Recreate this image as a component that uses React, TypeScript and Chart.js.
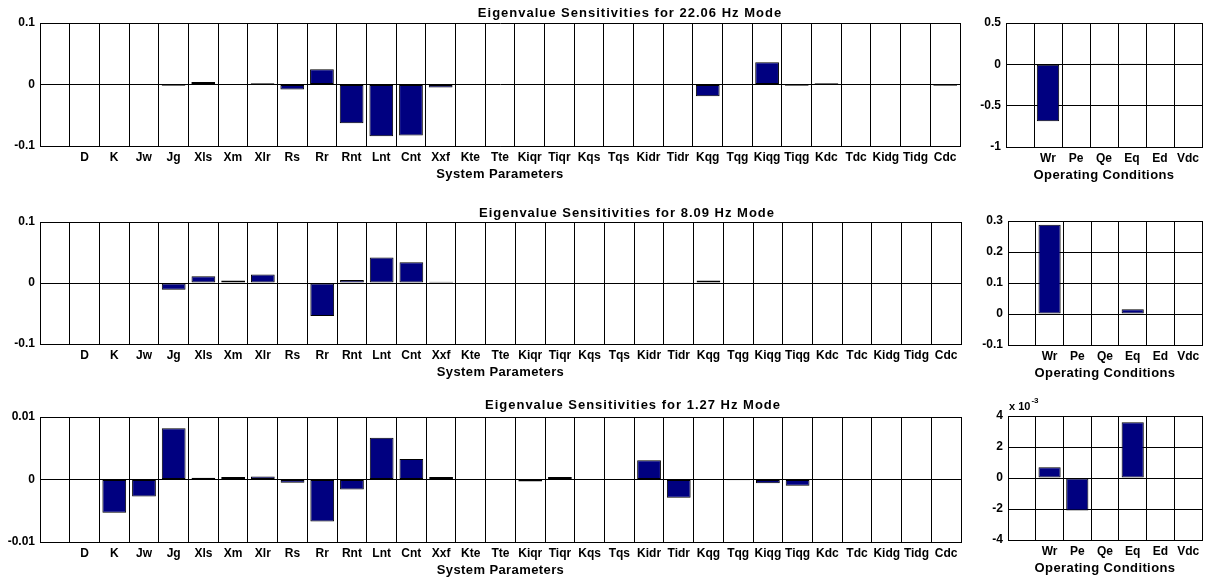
import React, { useEffect, useRef } from 'react';
import { Chart, registerables } from 'chart.js';

Chart.register(...registerables);

// ---------------- data ----------------
const sysParams = ['D', 'K', 'Jw', 'Jg', 'Xls', 'Xm', 'Xlr', 'Rs', 'Rr', 'Rnt', 'Lnt', 'Cnt', 'Xxf', 'Kte', 'Tte',
  'Kiqr', 'Tiqr', 'Kqs', 'Tqs', 'Kidr', 'Tidr', 'Kqg', 'Tqg', 'Kiqg', 'Tiqg', 'Kdc', 'Tdc', 'Kidg', 'Tidg', 'Cdc'];
const opConds = ['Wr', 'Pe', 'Qe', 'Eq', 'Ed', 'Vdc'];

const modeTitles = [
  'Eigenvalue Sensitivities for 22.06 Hz Mode',
  'Eigenvalue Sensitivities for 8.09 Hz Mode',
  'Eigenvalue Sensitivities for 1.27 Hz Mode',
];
const sysXLabel = 'System Parameters';
const opXLabel = 'Operating Conditions';

const sens22Sys = [0, 0, 0, -0.002, 0.004, 0, 0.002, -0.008, 0.025, -0.063, -0.084, -0.083, -0.005, 0, 0,
  0, 0, 0, 0, 0, 0, -0.019, 0, 0.036, -0.002, 0.002, 0, 0, 0, -0.002];
const sens22Op = [-0.69, 0, 0.005, 0.005, 0, 0];

const sens8Sys = [0, 0.001, 0, -0.011, 0.011, 0.004, 0.014, 0.001, -0.054, 0.005, 0.042, 0.034, 0.002, 0, 0,
  0, 0, 0, 0, 0, 0.0005, 0.004, 0, 0.001, -0.001, 0, 0, 0, 0, 0];
const sens8Op = [0.288, 0.002, 0, 0.015, 0, 0];

const sens127Sys = [0, -0.0053, -0.0027, 0.0082, 0.0003, 0.0004, 0.0005, -0.0005, -0.0067, -0.0016, 0.0067, 0.0033, 0.0004, 0, 0,
  -0.0003, 0.0004, 0, 0, 0.0031, -0.0029, 0, -0.0001, -0.0006, -0.001, 0, 0, 0, 0, 0];
const sens127Op = [0.0007, -0.0021, 0, 0.0036, 0, 0];

const yTicks22Sys = [-0.1, 0, 0.1];
const yTicks22Op = [-1, -0.5, 0, 0.5];
const yTicks8Sys = [-0.1, 0, 0.1];
const yTicks8Op = [-0.1, 0, 0.1, 0.2, 0.3];
const yTicks127Sys = [-0.01, 0, 0.01];
const yTicks127Op = [-0.004, -0.002, 0, 0.002, 0.004];

// ---------------- layout / style ----------------
const W = 1222;
const H = 580;
const FONT = '"Liberation Sans", Arial, Helvetica, sans-serif';
const BAR = '#000080';
const YW = 40;
const XH = 34;

type Panel = {
  cats: string[];
  values: number[];
  yTicks: number[];
  rect: [number, number, number, number]; // L, T, R, B
  xlabel: string;
  title?: string;
  titleX?: number;
  titleY?: number;
  expScale?: number;
  expText?: string;
};

const panels: Panel[] = [
  { cats: sysParams, values: sens22Sys, yTicks: yTicks22Sys, rect: [40, 23, 960, 146], xlabel: sysXLabel, title: modeTitles[0], titleX: 630, titleY: 13 },
  { cats: opConds, values: sens22Op, yTicks: yTicks22Op, rect: [1006, 23, 1202, 147], xlabel: opXLabel },
  { cats: sysParams, values: sens8Sys, yTicks: yTicks8Sys, rect: [40, 222, 961, 344], xlabel: sysXLabel, title: modeTitles[1], titleX: 627, titleY: 213 },
  { cats: opConds, values: sens8Op, yTicks: yTicks8Op, rect: [1008, 221, 1202, 345], xlabel: opXLabel },
  { cats: sysParams, values: sens127Sys, yTicks: yTicks127Sys, rect: [40, 417, 961, 542], xlabel: sysXLabel, title: modeTitles[2], titleX: 633, titleY: 405 },
  { cats: opConds, values: sens127Op, yTicks: yTicks127Op, rect: [1008, 416, 1202, 540], xlabel: opXLabel, expScale: 1e-3, expText: '-3' },
];

function fmt(v: number, scale?: number) {
  const x = scale ? v / scale : v;
  return String(Number(x.toFixed(6)));
}

function makeTextPlugin(p: Panel) {
  return {
    id: 'panelText',
    afterDraw(chart: any) {
      const ctx: CanvasRenderingContext2D = chart.ctx;
      const { left, right, top, bottom } = chart.chartArea;
      ctx.save();
      ctx.fillStyle = '#000';
      ctx.textAlign = 'center';
      ctx.textBaseline = 'middle';
      (ctx as any).letterSpacing = '0.4px';
      ctx.font = `bold 13px ${FONT}`;
      ctx.fillText(p.xlabel, (left + right) / 2, bottom + 28.5);
      if (p.title) {
        (ctx as any).letterSpacing = '1px';
        ctx.fillText(p.title, p.titleX!, p.titleY!);
      }
      if (p.expText) {
        (ctx as any).letterSpacing = '0px';
        ctx.textAlign = 'left';
        ctx.font = `bold 11px ${FONT}`;
        ctx.fillText('x 10', left + 1, top - 9);
        const w = ctx.measureText('x 10').width;
        ctx.font = `bold 8px ${FONT}`;
        ctx.fillText(p.expText, left + 2 + w, top - 15);
      }
      ctx.restore();
    },
  };
}

function PanelChart({ p }: { p: Panel }) {
  const ref = useRef<HTMLCanvasElement | null>(null);
  useEffect(() => {
    if (!ref.current) return;
    const [L, T, R, B] = p.rect;
    const n = p.cats.length;
    const yMin = p.yTicks[0];
    const yMax = p.yTicks[p.yTicks.length - 1];
    const tickFont = { family: FONT, size: 12, weight: 'bold' as const };
    const chart = new Chart(ref.current, {
      type: 'bar',
      data: {
        datasets: [
          {
            data: p.cats.map((c, i) => ({ x: i + 1, y: p.values[i] })),
            backgroundColor: BAR,
            borderColor: '#000',
            borderWidth: 1,
            borderSkipped: false,
            barPercentage: 0.8,
            categoryPercentage: 1,
          } as any,
        ],
      },
      options: {
        animation: false,
        responsive: false,
        devicePixelRatio: 1,
        events: [],
        layout: { padding: { left: L - YW, top: T, right: W - R, bottom: H - B - XH } },
        plugins: { legend: { display: false }, tooltip: { enabled: false }, title: { display: false } },
        scales: {
          x: {
            type: 'linear',
            min: 0,
            max: n,
            afterBuildTicks: (s: any) => {
              s.ticks = Array.from({ length: n + 1 }, (_, i) => ({ value: i }));
            },
            afterFit: (s: any) => {
              s.height = XH;
            },
            ticks: {
              autoSkip: false,
              maxRotation: 0,
              minRotation: 0,
              padding: 4,
              color: '#000',
              font: tickFont,
              callback: (v: any) => (v >= 1 && v <= n ? p.cats[Math.round(v) - 1] : ''),
            },
            grid: { color: '#000', lineWidth: 1, drawTicks: false },
            border: { display: true, color: '#000', width: 1 },
          },
          y: {
            type: 'linear',
            min: yMin,
            max: yMax,
            afterBuildTicks: (s: any) => {
              s.ticks = p.yTicks.map((v) => ({ value: v }));
            },
            afterFit: (s: any) => {
              s.width = YW;
            },
            ticks: {
              padding: 5,
              color: '#000',
              font: tickFont,
              callback: (v: any) => fmt(Number(v), p.expScale),
            },
            grid: { color: '#000', lineWidth: 1, drawTicks: false },
            border: { display: true, color: '#000', width: 1 },
          },
        },
      } as any,
      plugins: [makeTextPlugin(p)],
    });
    return () => chart.destroy();
  }, [p]);
  return (
    <canvas
      ref={ref}
      width={W}
      height={H}
      style={{ position: 'absolute', left: 0, top: 0, width: W, height: H }}
    />
  );
}

export default function App() {
  return (
    <div style={{ position: 'absolute', left: 0, top: 0, width: W, height: H, background: '#fff', overflow: 'hidden' }}>
      {panels.map((p, i) => (
        <PanelChart key={i} p={p} />
      ))}
    </div>
  );
}
